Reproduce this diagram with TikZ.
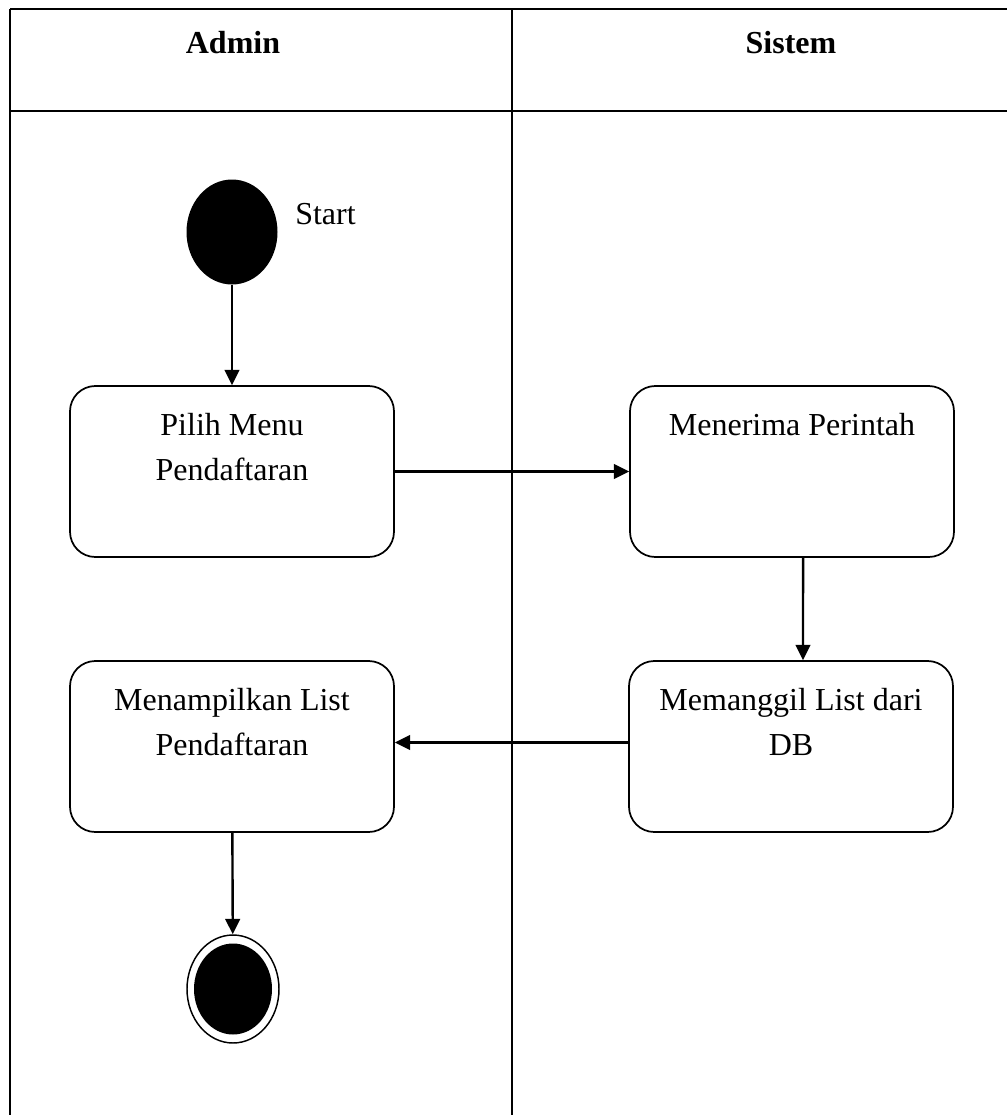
\documentclass[tikz,border=0pt]{standalone}
\usepackage{fontspec}
\setmainfont{Liberation Serif}
\usetikzlibrary{arrows.meta,shapes.geometric}
\begin{document}
\begin{tikzpicture}[x=0.75pt,y=-0.75pt,
  frame/.style={line width=1.8pt},
  act/.style={draw, line width=1.3pt, rounded corners=19pt, minimum width=243pt, minimum height=128.25pt, inner sep=0pt},
  txt/.style={font=\fontsize{24}{33.75}\selectfont, align=center, inner sep=0pt, anchor=north},
  head/.style={font=\fontsize{24}{30}\selectfont\bfseries, inner sep=0pt, anchor=base},
  flow/.style={line width=1.8pt, -{Triangle[length=11.5pt,width=11pt]}}]
\useasboundingbox (0,0) rectangle (1007,1115);
% swimlane frame
\coordinate (tl) at (10,9);
\coordinate (tr) at (1010,9);
\coordinate (hl) at (10,111);
\coordinate (hr) at (1010,111);
\coordinate (bl) at (10,1120);
\coordinate (dt) at (512,9);
\coordinate (db) at (512,1120);
\draw[frame] (tl) -- (tr);
\draw[line width=2.1pt] (hl) -- (hr);
\draw[frame] (tl) -- (bl);
\draw[frame] (dt) -- (db);
\node[head] (hadmin) at (233,53) {Admin};
\node[head] (hsistem) at (791,53) {Sistem};
% start
\node[ellipse, fill=black, minimum width=68.25pt, minimum height=78.75pt, inner sep=0pt] (start) at (232,232) {};
\node[font=\fontsize{24}{30}\selectfont, inner sep=0pt, anchor=base west] (starttxt) at (295,224) {Start};
% activities
\node[act] (b1) at (232,471.5) {};
\node[act] (b2) at (792,471.5) {};
\node[act] (b3) at (791,746.5) {};
\node[act] (b4) at (232,746.5) {};
\node[txt] (t1) at ([yshift=-21pt]b1.north) {Pilih Menu\\Pendaftaran};
\node[txt] (t2) at ([yshift=-21pt]b2.north) {Menerima Perintah};
\node[txt] (t3) at ([yshift=-21pt]b3.north) {Memanggil List dari\\DB};
\node[txt] (t4) at ([yshift=-21pt]b4.north) {Menampilkan List\\Pendaftaran};
% end
\node[ellipse, draw, line width=1.1pt, minimum width=69pt, minimum height=81pt, inner sep=0pt] (end) at (233,989) {};
\node[ellipse, fill=black, minimum width=58.5pt, minimum height=68.25pt, inner sep=0pt] (endin) at (233,989) {};
% flows
\draw[flow] (start) -- (b1);
\draw[flow] (b1) -- (b2);
\draw[flow] ([xshift=8.3pt]b2.south) -- ([xshift=9pt]b3.north);
\draw[flow] ([yshift=3pt]b3.west) -- ([yshift=3pt]b4.east);
\draw[flow] (b4) -- (end);
\end{tikzpicture}
\end{document}
